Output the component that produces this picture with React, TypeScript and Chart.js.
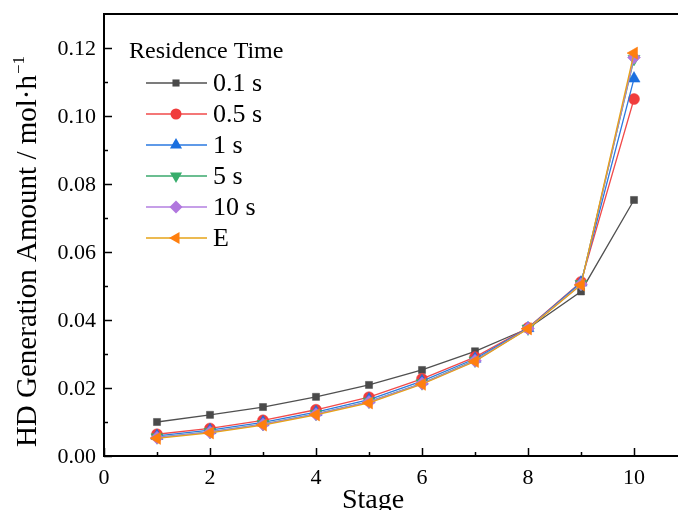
import React, { useEffect, useRef } from "react";
import { Chart, registerables } from "chart.js";
Chart.register(...registerables);

const stages = [1, 2, 3, 4, 5, 6, 7, 8, 9, 10];
const seriesNames = ["0.1 s", "0.5 s", "1 s", "5 s", "10 s", "E"];
const s01 = [0.0100, 0.0121, 0.0144, 0.0174, 0.0209, 0.0253, 0.0308, 0.0375, 0.0484, 0.0753];
const s05 = [0.0064, 0.0081, 0.0105, 0.0136, 0.0173, 0.0227, 0.0291, 0.0377, 0.0512, 0.1050];
const s1 = [0.0059, 0.0076, 0.0099, 0.0129, 0.0166, 0.0220, 0.0286, 0.0376, 0.0510, 0.1110];
const s5 = [0.0055, 0.0071, 0.0094, 0.0124, 0.0160, 0.0214, 0.0281, 0.0375, 0.0506, 0.1168];
const s10 = [0.0054, 0.0070, 0.0093, 0.0123, 0.0159, 0.0213, 0.0280, 0.0375, 0.0505, 0.1172];
const sE = [0.0052, 0.0068, 0.0091, 0.0121, 0.0156, 0.0211, 0.0278, 0.0374, 0.0503, 0.1185];
const allSeries = [s01, s05, s1, s5, s10, sE];
const xTicks = [0, 2, 4, 6, 8, 10];
const yTicks = [0, 0.02, 0.04, 0.06, 0.08, 0.1, 0.12];

const lineColors = ["#505050", "#f14a4a", "#2a78e0", "#3aa86c", "#b37fe0", "#e6a317"];
const markerColors = ["#4a4a4a", "#f03c3c", "#1a6fdf", "#37ad6b", "#b177de", "#ff7f0e"];
const pointStyles = ["rect", "circle", "triangle", "triangle", "rectRot", "triangle"];
const rotations = [0, 0, 0, 180, 0, -90];
const radii = [5, 5.5, 7, 7, 6.5, 7];

const FONT = "'Liberation Serif', 'Times New Roman', serif";

function drawMarker(ctx: CanvasRenderingContext2D, i: number, x: number, y: number) {
  const r = radii[i];
  ctx.save();
  ctx.fillStyle = markerColors[i];
  ctx.translate(x, y);
  ctx.rotate((rotations[i] * Math.PI) / 180);
  ctx.beginPath();
  const st = pointStyles[i];
  if (st === "rect") {
    const s = r * Math.SQRT1_2 * 2;
    ctx.rect(-s / 2, -s / 2, s, s);
  } else if (st === "circle") {
    ctx.arc(0, 0, r, 0, Math.PI * 2);
  } else if (st === "rectRot") {
    ctx.moveTo(0, -r);
    ctx.lineTo(r, 0);
    ctx.lineTo(0, r);
    ctx.lineTo(-r, 0);
    ctx.closePath();
  } else {
    ctx.moveTo(0, -r);
    ctx.lineTo(r * Math.sin(Math.PI / 3), r * 0.5);
    ctx.lineTo(-r * Math.sin(Math.PI / 3), r * 0.5);
    ctx.closePath();
  }
  ctx.fill();
  ctx.restore();
}

const decorPlugin = {
  id: "decor",
  afterDraw(chart: any) {
    const ctx = chart.ctx;
    const { left, right, top, bottom } = chart.chartArea;
    const xs = chart.scales.x;
    const ys = chart.scales.y;
    ctx.save();
    ctx.strokeStyle = "#000";
    ctx.lineWidth = 2;
    ctx.beginPath();
    ctx.moveTo(left, top);
    ctx.lineTo(right, top);
    ctx.moveTo(left, top - 1);
    ctx.lineTo(left, bottom + 1);
    ctx.moveTo(left - 1, bottom);
    ctx.lineTo(right, bottom);
    ctx.stroke();
    ctx.lineWidth = 1.5;
    ctx.beginPath();
    for (let v = 0; v <= 10; v++) {
      const px = Math.round(xs.getPixelForValue(v)) + 0.5;
      const len = v % 2 === 0 ? 8 : 4;
      ctx.moveTo(px, bottom);
      ctx.lineTo(px, bottom - len);
    }
    for (let i = 0; i <= 12; i++) {
      const py = Math.round(ys.getPixelForValue(i * 0.01)) + 0.5;
      const len = i % 2 === 0 ? 8 : 4;
      ctx.moveTo(left, py);
      ctx.lineTo(left + len, py);
    }
    ctx.stroke();

    ctx.fillStyle = "#000";
    ctx.font = `22px ${FONT}`;
    ctx.textAlign = "center";
    ctx.textBaseline = "alphabetic";
    for (const v of xTicks) {
      ctx.fillText(String(v), xs.getPixelForValue(v), 484);
    }
    ctx.textAlign = "right";
    ctx.textBaseline = "middle";
    for (const v of yTicks) {
      ctx.fillText(v.toFixed(2), 96, ys.getPixelForValue(v) + 1);
    }

    ctx.textBaseline = "alphabetic";
    ctx.textAlign = "center";
    ctx.font = `28px ${FONT}`;
    ctx.fillText("Stage", 373, 508);

    ctx.save();
    ctx.translate(36, 252);
    ctx.rotate(-Math.PI / 2);
    const main = "HD Generation Amount / mol·h";
    ctx.font = `29px ${FONT}`;
    const wMain = ctx.measureText(main).width;
    ctx.font = `17px ${FONT}`;
    const sup = "−1";
    const wSup = ctx.measureText(sup).width;
    const total = wMain + wSup;
    ctx.textAlign = "left";
    ctx.font = `29px ${FONT}`;
    ctx.fillText(main, -total / 2, 0);
    ctx.font = `17px ${FONT}`;
    ctx.fillText(sup, -total / 2 + wMain + 1, -12);
    ctx.restore();

    ctx.textAlign = "left";
    ctx.textBaseline = "middle";
    ctx.font = `24px ${FONT}`;
    ctx.fillText("Residence Time", 129, 52);
    for (let i = 0; i < seriesNames.length; i++) {
      const y = 83 + i * 31;
      ctx.strokeStyle = lineColors[i];
      ctx.lineWidth = 1.3;
      ctx.beginPath();
      ctx.moveTo(146, y);
      ctx.lineTo(207, y);
      ctx.stroke();
      drawMarker(ctx, i, 176, y);
      ctx.fillStyle = "#000";
      ctx.font = `26px ${FONT}`;
      ctx.fillText(seriesNames[i], 213, y + 1);
    }
    ctx.restore();
  },
};

export default function App() {
  const ref = useRef<HTMLCanvasElement>(null);
  useEffect(() => {
    if (!ref.current) return;
    const datasets = allSeries.map((vals, i) => ({
      label: seriesNames[i],
      data: vals.map((v, j) => ({ x: stages[j], y: v })),
      borderColor: lineColors[i],
      backgroundColor: markerColors[i],
      pointBackgroundColor: markerColors[i],
      pointBorderColor: markerColors[i],
      pointBorderWidth: 0.5,
      borderWidth: 1.3,
      pointStyle: pointStyles[i],
      pointRotation: rotations[i],
      pointRadius: radii[i],
      order: seriesNames.length - i,
      tension: 0,
      clip: false,
    }));
    const chart = new Chart(ref.current, {
      type: "line",
      data: { datasets },
      options: {
        animation: false,
        responsive: false,
        events: [],
        layout: { autoPadding: false, padding: { top: 14, right: 0, left: 0, bottom: 0 } },
        plugins: { legend: { display: false }, tooltip: { enabled: false } },
        scales: {
          x: {
            type: "linear",
            min: 0,
            max: 10.83,
            afterFit: (s: any) => {
              s.height = 54;
              s.paddingLeft = 0;
              s.paddingRight = 0;
            },
            afterBuildTicks: (s: any) => {
              s.ticks = xTicks.map((v) => ({ value: v }));
            },
            ticks: { display: false },
            grid: { display: false, drawTicks: false },
            border: { display: false },
          },
          y: {
            type: "linear",
            min: 0,
            max: 0.13,
            afterFit: (s: any) => {
              s.width = 104;
              s.paddingTop = 0;
              s.paddingBottom = 0;
            },
            afterBuildTicks: (s: any) => {
              s.ticks = yTicks.map((v) => ({ value: v }));
            },
            ticks: { display: false },
            grid: { display: false, drawTicks: false },
            border: { display: false },
          },
        },
      },
      plugins: [decorPlugin],
    });
    return () => chart.destroy();
  }, []);
  return (
    <div style={{ position: "fixed", left: 0, top: 0, width: 678, height: 510, background: "#fff" }}>
      <canvas ref={ref} width={678} height={510} style={{ width: 678, height: 510 }} />
    </div>
  );
}
